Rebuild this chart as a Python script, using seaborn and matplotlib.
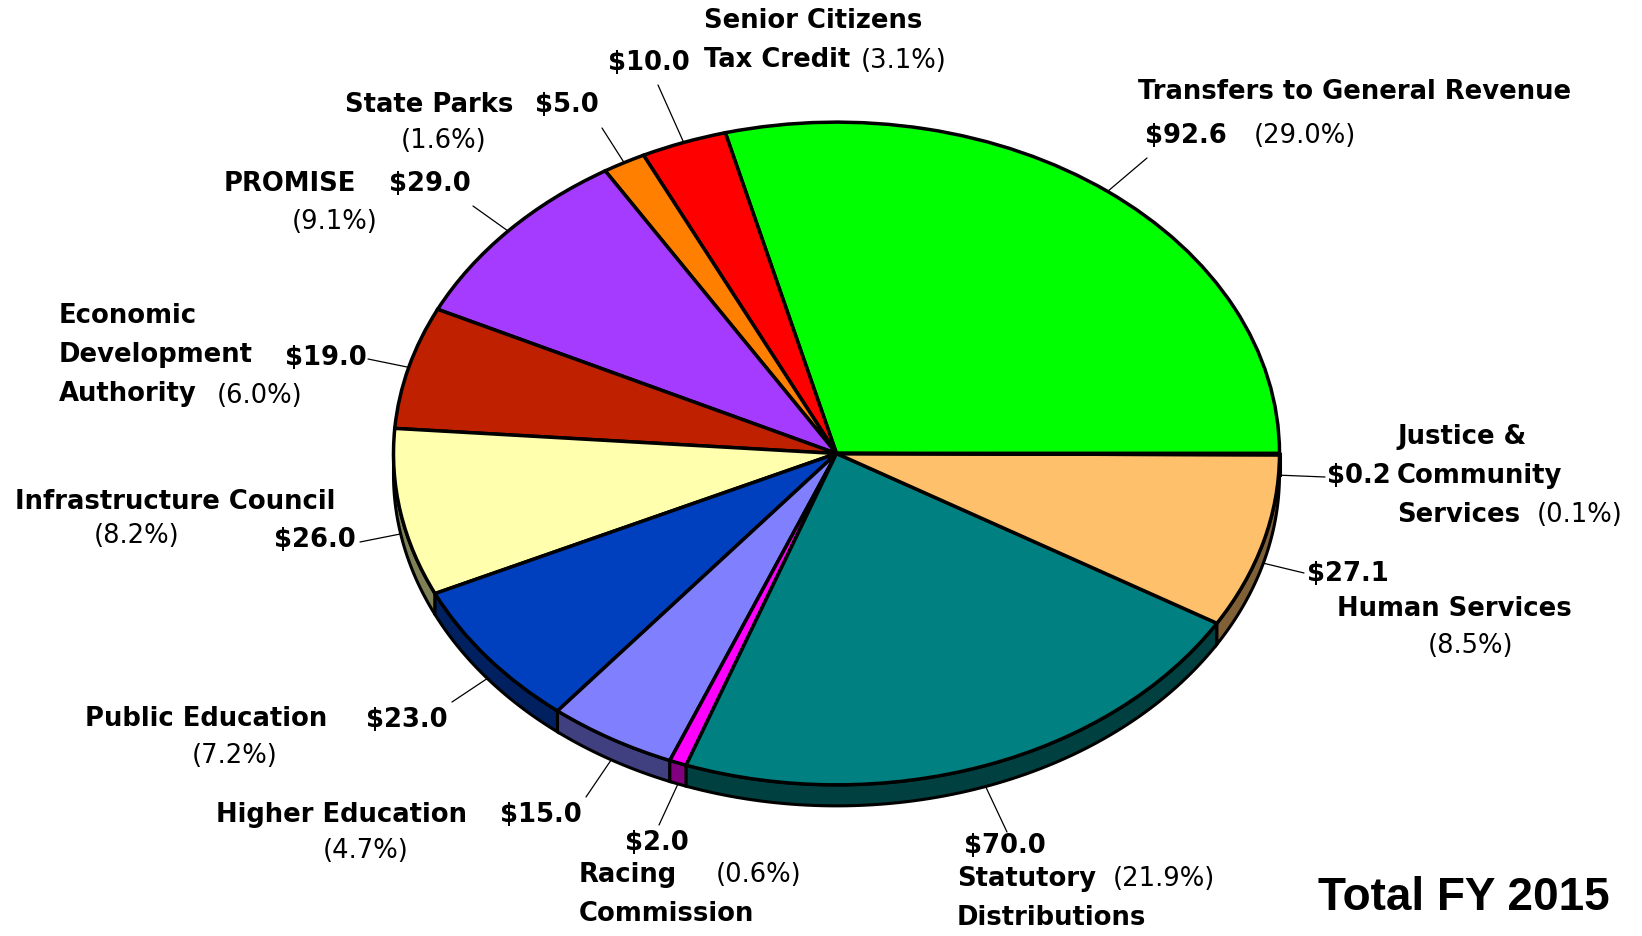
import matplotlib
matplotlib.use('Agg')

import numpy as np
import matplotlib.pyplot as plt
import matplotlib.colors as mcolors
import seaborn as sns

# slices, counter-clockwise from 3 o'clock
categories = ['Transfers to General Revenue', 'Senior Citizens\nTax Credit', 'State Parks',
              'PROMISE', 'Economic\nDevelopment\nAuthority', 'Infrastructure Council',
              'Public Education', 'Higher Education', 'Racing\nCommission',
              'Statutory\nDistributions', 'Human Services', 'Justice &\nCommunity\nServices']
amounts = [92.6, 10.0, 5.0, 29.0, 19.0, 26.0, 23.0, 15.0, 2.0, 70.0, 27.1, 0.2]
percents = [29.0, 3.1, 1.6, 9.1, 6.0, 8.2, 7.2, 4.7, 0.6, 21.9, 8.5, 0.1]
colors = ['#00FF00', '#FF0000', '#FF8000', '#A53BFF', '#BF2000', '#FFFFAD',
          '#0040BF', '#8080FF', '#FF00FF', '#008080', '#FFC06C', '#B08040']
title = 'Total FY 2015'

W, H = 1642, 936
SQ = 0.748          # vertical squash of the tilted pie
DEPTH = 21          # wall thickness in pixels


def P(px, py):
    # pixel position -> data coordinates (y stretched so the pie is an ellipse)
    return px, (H - py) / SQ


# label layout: (name xy, ha), (value xy, ha), (percent xy, ha), leader end
layout = [
    ((1138, 92, 'left'), (1145, 136, 'left'), (1254, 136, 'left'), (1147, 158)),
    ((704, 21, 'left'), (690, 63, 'right'), (861, 61, 'left'), (658, 85)),
    ((345, 105, 'left'), (535, 105, 'left'), (444, 141, 'center'), (602, 128)),
    ((224, 184, 'left'), (389, 184, 'left'), (335, 222, 'center'), (473, 206)),
    ((59, 316, 'left'), (285, 358, 'left'), (217, 396, 'left'), (368, 359)),
    ((15, 502, 'left'), (274, 540, 'left'), (137, 536, 'center'), (360, 542)),
    ((85, 719, 'left'), (366, 720, 'left'), (235, 756, 'center'), (452, 702)),
    ((216, 815, 'left'), (500, 815, 'left'), (366, 851, 'center'), (586, 797)),
    ((579, 875, 'left'), (625, 843, 'left'), (716, 875, 'left'), (659, 825)),
    ((957, 879, 'left'), (964, 846, 'left'), (1113, 879, 'left'), (1007, 832)),
    ((1337, 609, 'left'), (1307, 574, 'left'), (1471, 646, 'center'), (1304, 573)),
    ((1397, 437, 'left'), (1327, 476, 'left'), (1537, 515, 'left'), (1325, 477)),
]

sns.set_theme(style='white')
plt.rcParams['font.family'] = ['DejaVu Sans']
plt.rcParams['text.color'] = 'black'

fig = plt.figure(figsize=(W / 100, H / 100), dpi=100)
ax = fig.add_axes([0, 0, 1, 1])

cx, cy = P(836.5, 453.5)
radius = 443
depth = DEPTH / SQ

total = sum(amounts)
edges = np.concatenate([[0], np.cumsum(amounts)]) / total * 360

# side wall of the lower half
for i, col in enumerate(colors):
    a, b = max(edges[i], 180), min(edges[i + 1], 360)
    if b <= a:
        continue
    t = np.radians(np.linspace(a, b, 80))
    xs = cx + radius * np.cos(t)
    ys = cy + radius * np.sin(t)
    dark = tuple(np.array(mcolors.to_rgb(col)) * 0.5)
    ax.fill(np.concatenate([xs, xs[::-1]]), np.concatenate([ys, ys[::-1] - depth]),
            facecolor=dark, edgecolor='black', linewidth=2.2, zorder=1)

ax.pie(amounts, colors=colors, startangle=0, counterclock=True, radius=radius,
       center=(cx, cy), normalize=True,
       wedgeprops=dict(edgecolor='black', linewidth=2.5, zorder=2))

ax.set_aspect('auto')
ax.set_xlim(0, W)
ax.set_ylim(0, H / SQ)
ax.axis('off')

fs = 18.6
for i in range(len(amounts)):
    (nx, ny, nha), (vx, vy, vha), (px_, py_, pha), (lx, ly) = layout[i]
    for k, line in enumerate(categories[i].split('\n')):
        ax.text(*P(nx, ny + k * 39), line, ha=nha, va='center', fontsize=fs,
                fontweight='bold', color='black', zorder=5)
    ax.text(*P(vx, vy), f'${amounts[i]:.1f}', ha=vha, va='center', fontsize=fs,
            fontweight='bold', color='black', zorder=5)
    ax.text(*P(px_, py_), f'({percents[i]:.1f}%)', ha=pha, va='center', fontsize=fs,
            color='black', zorder=5)

    # leader from the slice middle on the rim
    mid = np.radians((edges[i] + edges[i + 1]) / 2)
    sx = cx + radius * np.cos(mid)
    sy = cy + radius * np.sin(mid)
    if np.sin(mid) < 0:
        sy -= depth
    ex, ey = P(lx, ly)
    ax.plot([sx, ex], [sy, ey], color='black', linewidth=0.9, zorder=4)

ax.text(*P(1318, 898), title, ha='left', va='center', fontsize=33,
        fontweight='bold', family=['Liberation Sans'], color='black', zorder=5)

plt.savefig('out.png', dpi=100)
